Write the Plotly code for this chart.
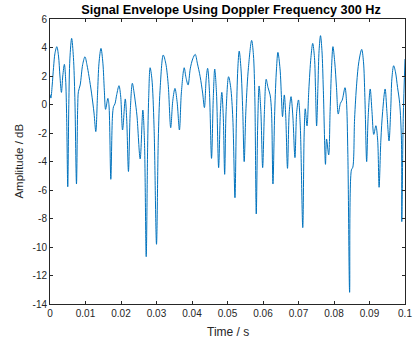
import plotly.graph_objects as go

# Envelope samples: time (ms) and amplitude (dB)
time_ms = [
    0.00, 0.25, 0.6, 1.0, 1.4, 1.93, 2.4, 2.8, 3.22, 3.6, 4.05, 4.4, 4.7, 5.0, 5.3, 5.6,
    6.1, 6.6, 7.0, 7.46, 7.8, 8.0, 8.5, 9.2, 9.85, 10.4, 11.0, 11.7, 12.4, 12.9, 13.4,
    13.8, 14.36, 14.9, 15.3, 15.66, 16.3, 16.6, 17.13, 17.6, 17.9, 18.3, 18.8, 19.43,
    19.9, 20.44, 21.2, 21.6, 22.1, 22.6, 23.2, 23.7, 24.0, 24.5, 25.4, 26.15, 26.6,
    27.1, 27.5, 27.8, 28.2, 28.7, 29.3, 30.0, 30.5, 31.0, 31.9, 32.6, 33.3, 34.0,
    34.6, 35.2, 35.8, 36.46, 37.0, 37.8, 38.3, 38.9, 39.5, 40.2, 40.9, 41.5, 42.3,
    43.0, 43.5, 44.0, 44.4, 44.9, 45.5, 46.0, 46.4, 46.9, 47.5, 48.0, 48.4, 48.8,
    49.2, 49.6, 50.3, 50.9, 51.5, 52.1, 52.5, 52.9, 53.3, 53.8, 54.3, 54.7, 55.2,
    55.9, 56.8, 57.3, 57.7, 58.1, 58.5, 58.9, 59.4, 59.9, 60.4, 60.9, 61.4, 62.0,
    62.4, 62.8, 63.3, 63.8, 64.2, 64.8, 65.2, 65.5, 66.0, 66.4, 66.9, 67.4, 67.9,
    68.4, 69.0, 69.5, 70.0, 70.5, 71.2, 71.6, 71.9, 72.4, 72.9, 73.5, 74.0, 74.5,
    74.8, 75.1, 75.5, 75.8, 76.2, 76.6, 77.0, 77.6, 77.9, 78.5, 78.9, 79.3, 79.7,
    80.2, 80.7, 81.2, 81.8, 82.3, 83.1, 83.5, 83.9, 84.4, 84.9, 85.3, 85.8, 86.4,
    87.0, 87.8, 88.3, 88.7, 89.2, 89.6, 90.2, 90.7, 91.2, 91.8, 92.3, 92.7, 93.2,
    93.7, 94.4, 94.9, 95.5, 96.0, 96.3, 96.8, 97.3, 97.9, 98.5, 99.0, 99.1, 99.5,
    100.0,
]
amplitude_db = [
    0.7, 0.45, 1.3, 2.6, 3.6, 4.06, 3.4, 2.0, 0.85, 2.0, 2.82, 1.8, -1.0, -5.77, 0.0, 3.2,
    4.64, 3.3, 0.5, -5.58, -0.2, 0.9, 1.37, 2.8, 3.35, 2.8, 1.95, 0.8, -0.6, -1.9, 0.8,
    2.9, 3.94, 2.9, 1.0, -0.34, 0.43, 0.0, -5.25, -0.8, -0.15, 0.05, 0.7, 1.32,
    0.6, -1.79, 0.39, -1.0, -4.7, -0.5, 1.49, 0.8, 0.25, -0.8, -3.82, -0.39, -2.5,
    -10.68, -3.0, 0.5, 2.58, 1.8, -1.5, -9.81, -2.5, 1.0, 3.47, 2.9, 1.4, -1.63,
    0.3, 1.13, 0.2, -1.79, 0.8, 2.58, 1.9, 1.37, 2.5, 3.2, 3.52, 2.9, 1.95,
    0.8, -0.22, 1.8, 2.54, 1.0, -3.78, 0.5, 2.49, 0.8, -4.43, -0.5, 0.85, -0.8,
    -4.9, -0.5, 1.95, 1.2, -1.0, -6.54, -1.0, 2.5, 3.75, 2.5, -0.5, -4.01, -0.3,
    2.6, 4.5, 3.5, 0.5, -7.68, -1.5, 1.3, -0.5, -4.43, -0.5, 1.77, 1.2, 0.67,
    -0.5, -5.58, -0.5, 2.5, 3.66, 2.5, 0.5, -0.85, 0.67, -0.8, -4.48, -0.5, 0.55,
    -0.8, -3.73, -0.5, 0.32, -1.5, -8.64, -2.0, -0.3, -1.5, 1.0, 3.3, 4.29, 3.3,
    1.0, -1.51, 1.5, 3.8, 4.83, 3.8, 1.0, -4.2, -2.42, -3.54, -0.5, 2.5, 4.06,
    3.0, 1.2, -0.67, 0.08, 0.3, 1.18, 0.3, -3.5, -13.18, -4.6, -4.4, -1.0, 1.5,
    3.0, 3.87, 3.0, 0.5, -4.01, -1.0, 1.09, -0.5, -2.1, -1.49, -2.5, -5.81, -2.5,
    -0.5, 1.09, -0.5, -2.56, -0.2, 1.8, 2.72, 2.3, 1.2, 0.08, -2.5, -8.22, -1.0,
    3.19,
]

x_ticks = [0, 0.01, 0.02, 0.03, 0.04, 0.05, 0.06, 0.07, 0.08, 0.09, 0.1]
x_tick_labels = ["0", "0.01", "0.02", "0.03", "0.04", "0.05", "0.06", "0.07", "0.08", "0.09", "0.1"]
y_ticks = [-14, -12, -10, -8, -6, -4, -2, 0, 2, 4, 6]
y_tick_labels = ["-14", "-12", "-10", "-8", "-6", "-4", "-2", "0", "2", "4", "6"]

time_s = [t / 1000.0 for t in time_ms]

axis_color = "#262626"
font_family = "Liberation Sans, Arial, sans-serif"

fig = go.Figure(
    go.Scatter(
        x=time_s,
        y=amplitude_db,
        mode="lines",
        line=dict(color="#0072BD", width=1, shape="spline", smoothing=0.9),
        hoverinfo="skip",
    )
)

axis_common = dict(
    showgrid=False,
    zeroline=False,
    showline=True,
    linecolor=axis_color,
    linewidth=1,
    mirror="ticks",
    ticks="inside",
    ticklen=3,
    tickwidth=1,
    tickcolor=axis_color,
    tickfont=dict(family=font_family, size=10, color=axis_color),
    ticklabeloverflow="allow",
)

fig.update_xaxes(
    range=[0, 0.1],
    tickvals=x_ticks,
    ticktext=x_tick_labels,
    **axis_common,
)
fig.update_yaxes(
    range=[-14, 6],
    tickvals=y_ticks,
    ticktext=y_tick_labels,
    **axis_common,
)

fig.update_layout(
    width=418,
    height=344,
    margin=dict(l=50, r=6, t=19, b=40),
    paper_bgcolor="white",
    plot_bgcolor="white",
    showlegend=False,
    title=dict(
        text="<b>Signal Envelope Using Doppler Frequency 300 Hz</b>",
        font=dict(family=font_family, size=12.7, color="#000000"),
        x=(231 / 418),
        xanchor="center",
        xref="container",
        y=1 - 9.5 / 344,
        yanchor="middle",
        yref="container",
    ),
    annotations=[
        dict(
            text="Time / s",
            x=0.5, y=-28 / 285,
            xref="paper", yref="paper",
            xanchor="center", yanchor="middle",
            showarrow=False,
            font=dict(family=font_family, size=12, color=axis_color),
        ),
        dict(
            text="Amplitude / dB",
            x=(18 - 50) / 362, y=(304 - 161) / 285,
            xref="paper", yref="paper",
            xanchor="center", yanchor="middle",
            textangle=-90,
            showarrow=False,
            font=dict(family=font_family, size=11.5, color=axis_color),
        ),
    ],
)

fig.write_html("out.html")
